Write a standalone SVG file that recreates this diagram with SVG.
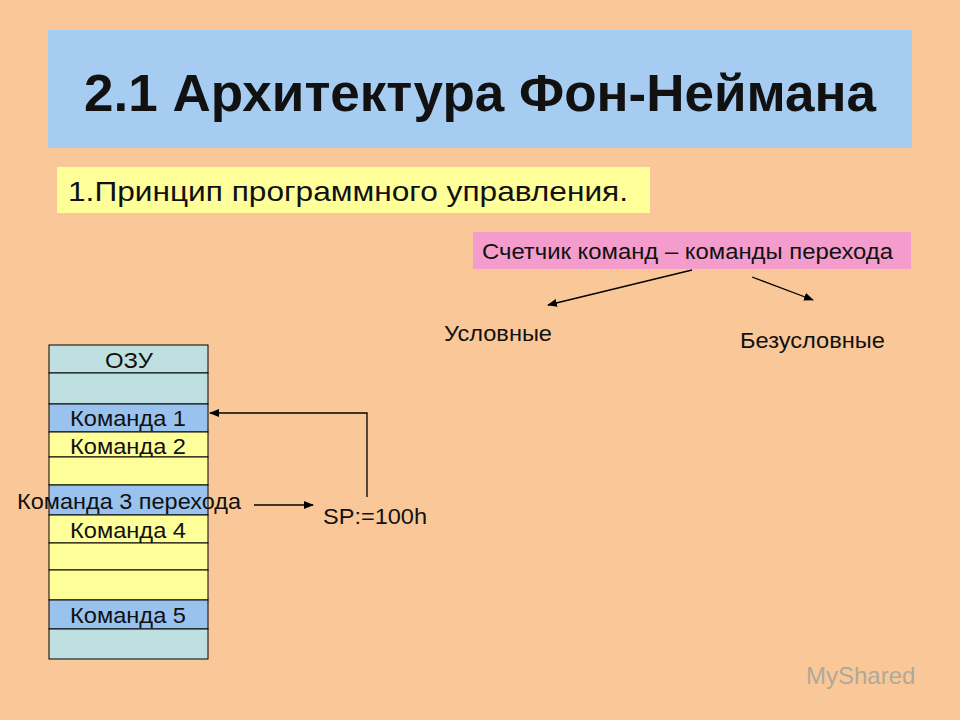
<svg xmlns="http://www.w3.org/2000/svg" width="960" height="720" viewBox="0 0 960 720">
<style>
text{font-family:"Liberation Sans",Arial,sans-serif;fill:#111}
.c{text-anchor:middle;font-size:22px}
.ln{stroke:#000;stroke-width:1.3;fill:none}
.cy{fill:#BEE0E0;stroke:#000;stroke-width:1}
.bl{fill:#99C2EE;stroke:#000;stroke-width:1}
.ye{fill:#FFFF99;stroke:#000;stroke-width:1}
</style>
<defs><marker id="a" markerWidth="10" markerHeight="8" refX="9" refY="4" orient="auto" markerUnits="userSpaceOnUse"><path d="M0,0L10,4L0,8z" fill="#000"/></marker></defs>
<rect width="960" height="720" fill="#FAC898"/>
<g id="title"><rect x="48" y="30" width="864" height="118" fill="#A6CCF2"/><text x="84" y="111" font-size="51" font-weight="bold" textLength="792" lengthAdjust="spacingAndGlyphs">2.1 Архитектура Фон-Неймана</text></g>
<g id="principle"><rect x="57" y="167" width="593" height="46" fill="#FFFF99"/><text x="68" y="201" font-size="28" textLength="560" lengthAdjust="spacingAndGlyphs">1.Принцип программного управления.</text></g>
<g id="counter"><rect x="473" y="232" width="438" height="37" fill="#F49CCB"/><text x="482" y="259" font-size="22" textLength="411" lengthAdjust="spacingAndGlyphs">Счетчик команд – команды перехода</text></g>
<g id="cond"><text x="444" y="341" font-size="22" textLength="108" lengthAdjust="spacingAndGlyphs">Условные</text></g>
<g id="uncond"><text x="740" y="348" font-size="22" textLength="145" lengthAdjust="spacingAndGlyphs">Безусловные</text></g>
<g id="ozu">
<rect class="cy" x="49" y="345" width="159" height="28"/><text class="c" x="129" y="368" textLength="48" lengthAdjust="spacingAndGlyphs">ОЗУ</text>
<rect class="cy" x="49" y="373" width="159" height="31"/>
<rect class="bl" x="49" y="404" width="159" height="28"/><text class="c" x="128" y="426" textLength="116" lengthAdjust="spacingAndGlyphs">Команда 1</text>
<rect class="ye" x="49" y="432" width="159" height="25"/><text class="c" x="128" y="454" textLength="116" lengthAdjust="spacingAndGlyphs">Команда 2</text>
<rect class="ye" x="49" y="457" width="159" height="28"/>
<rect class="bl" x="49" y="485" width="159" height="30"/><text class="c" x="129" y="509" textLength="224" lengthAdjust="spacingAndGlyphs">Команда 3 перехода</text>
<rect class="ye" x="49" y="515" width="159" height="28"/><text class="c" x="128" y="538" textLength="116" lengthAdjust="spacingAndGlyphs">Команда 4</text>
<rect class="ye" x="49" y="543" width="159" height="27"/>
<rect class="ye" x="49" y="570" width="159" height="30"/>
<rect class="bl" x="49" y="600" width="159" height="29"/><text class="c" x="128" y="623" textLength="116" lengthAdjust="spacingAndGlyphs">Команда 5</text>
<rect class="cy" x="49" y="629" width="159" height="30"/>
</g>
<g id="sp"><text x="323" y="524" font-size="22" textLength="104" lengthAdjust="spacingAndGlyphs">SP:=100h</text></g>
<g id="connectors">
<path class="ln" d="M254,505H313" marker-end="url(#a)"/>
<path class="ln" d="M367,497V413H210" marker-end="url(#a)"/>
<path class="ln" d="M692,270L548,305" marker-end="url(#a)"/>
<path class="ln" d="M752,277L813,300" marker-end="url(#a)"/>
</g>
<text x="806" y="684" font-size="24" style="fill:#B0A898">MyShared</text>
</svg>
